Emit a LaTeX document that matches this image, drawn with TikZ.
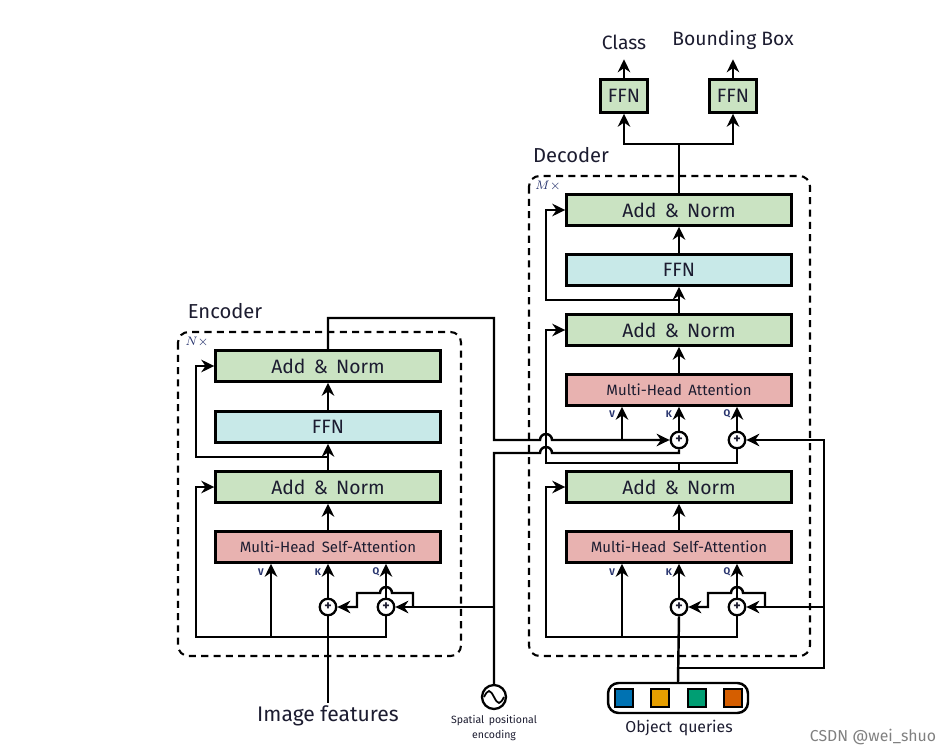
\documentclass[tikz,border=0pt]{standalone}
\usepackage{fontspec}
\setmainfont{Fira Sans}
\usetikzlibrary{arrows.meta}

\definecolor{anGreen}{RGB}{202,227,194}
\definecolor{ffnCyan}{RGB}{200,233,232}
\definecolor{attPink}{RGB}{232,178,176}
\definecolor{textC}{RGB}{28,28,48}
\definecolor{labelBlue}{RGB}{40,52,110}
\definecolor{sqBlue}{RGB}{0,114,178}
\definecolor{sqOrange}{RGB}{230,159,0}
\definecolor{sqGreen}{RGB}{0,158,115}
\definecolor{sqVerm}{RGB}{213,94,0}

\begin{document}
\begin{tikzpicture}
        [   x=0.02cm, y=-0.02cm,
            line width=1.4pt,
            >={Stealth[length=2.6mm,width=2.5mm]},
            layerBox/.style=
            {rectangle, draw, line width=1.4pt, text=textC,
            minimum width=4.5cm, minimum height=0.62cm, inner sep=0pt},
            anBox/.style=
            {layerBox, fill=anGreen, font=\fontsize{11}{13}\selectfont},
            ffnBox/.style=
            {layerBox, fill=ffnCyan, font=\fontsize{11}{13}\selectfont},
            attBox/.style=
            {layerBox, fill=attPink, font=\fontsize{8.5}{10}\selectfont},
            headBox/.style=
            {rectangle, draw, line width=1.4pt, fill=anGreen, text=textC,
            minimum width=0.94cm, minimum height=0.66cm, inner sep=0pt,
            font=\fontsize{11}{13}\selectfont},
            addNode/.style=
            {circle, draw, line width=1.3pt, fill=white, text=textC,
            minimum size=0.33cm, inner sep=0pt,
            font=\bfseries\fontsize{8}{8}\selectfont},
            qkvLabel/.style=
            {text=labelBlue, inner sep=0pt,
            font=\bfseries\fontsize{5.5}{6}\selectfont},
            stackBox/.style=
            {draw, line width=1.2pt, rounded corners=6pt,
            dash pattern=on 4pt off 3pt},
            titleText/.style=
            {text=textC, font=\fontsize{11.5}{13}\selectfont}
        ]
            \useasboundingbox (0,0) rectangle (940,750);

            \draw[stackBox] (178,332) rectangle (461,656);
            \draw[stackBox] (529,176) rectangle (810,656);
            \node[titleText] (encT) at (225,311) {Encoder};
            \node[titleText] (decT) at (571,155) {Decoder};
            \node[text=labelBlue, font=\fontsize{7.5}{8}\selectfont] (encN) at (197,342) {$N\times$};
            \node[text=labelBlue, font=\fontsize{7.5}{8}\selectfont] (decM) at (548,186) {$M\times$};

            \node[anBox] (encAN2) at (328,366) {Add \,\&\, Norm};
            \node[ffnBox] (encFFN) at (328,427) {FFN};
            \node[anBox] (encAN1) at (328,487) {Add \,\&\, Norm};
            \node[attBox] (encMHSA) at (328,547) {Multi-Head \,Self-Attention};
            \node[addNode] (encK) at (328,607) {+};
            \node[addNode] (encQ) at (386,607) {+};

            \node[anBox] (decAN3) at (679,210) {Add \,\&\, Norm};
            \node[ffnBox] (decFFN) at (679,270) {FFN};
            \node[anBox] (decAN2) at (679,330) {Add \,\&\, Norm};
            \node[attBox] (decMHA) at (679,390) {Multi-Head \,Attention};
            \node[addNode] (decK2) at (679,440) {+};
            \node[addNode] (decQ2) at (737,440) {+};
            \node[anBox] (decAN1) at (679,487) {Add \,\&\, Norm};
            \node[attBox] (decMHSA) at (679,547) {Multi-Head \,Self-Attention};
            \node[addNode] (decK1) at (679,607) {+};
            \node[addNode] (decQ1) at (737,607) {+};

            \node[headBox] (ffnCls) at (624,96) {FFN};
            \node[headBox] (ffnBbox) at (733,96) {FFN};
            \node[titleText, font=\fontsize{11}{13}\selectfont] (clsT) at (624,42) {Class};
            \node[titleText, font=\fontsize{11}{13}\selectfont] (bbT) at (733,40) {Bounding Box};

            \foreach \x/\l in {271/V, 328/K, 386/Q}
                \node[qkvLabel] (encL\l) at (\x-10,572) {\l};
            \foreach \x/\l in {622/V, 679/K, 737/Q}
                \node[qkvLabel] (decL\l) at (\x-10,414) {\l};
            \foreach \x/\l in {622/V, 679/K, 737/Q}
                \node[qkvLabel] (decS\l) at (\x-10,572) {\l};

            \node[text=textC, font=\fontsize{12}{14}\selectfont, inner sep=1pt] (imgF) at (328,716) {Image features};
            \node[circle, draw, line width=1.3pt, minimum size=0.48cm, inner sep=0pt] (pe) at (494,697) {};
            \draw[line width=1pt] (484,697) sin (489,691) cos (494,697) sin (499,703) cos (504,697);
            \node[text=textC, align=center, font=\fontsize{6}{8}\selectfont] (peT) at (494,728) {Spatial \,positional\\encoding};

            \node[draw, line width=1.4pt, rounded corners=6pt, minimum width=2.8cm, minimum height=0.6cm] (oq) at (678,698) {};
            \foreach \x/\c in {624/sqBlue, 660/sqOrange, 697/sqGreen, 733/sqVerm}
                \node[draw, line width=0.8pt, fill=\c, minimum size=0.36cm, inner sep=0pt] (sq\c) at (\x,698) {};
            \node[text=textC, font=\fontsize{9}{11}\selectfont] (oqT) at (679,728) {Object \,queries};
            \node[text=gray, font=\fontsize{9}{11}\selectfont] (wm) at (873,737) {CSDN @wei\_shuo};

            \coordinate (encV) at (271,637);
            \coordinate (decV2) at (622,440);
            \coordinate (decV1) at (622,637);

            \draw (imgF.north) -- (encK.south);
            \draw[->] (encQ.south) |- (196,637) |- (encAN1.west);
            \draw[->] (encV) -- (encV |- encMHSA.south);
            \draw[->] (encK.north) -- (encK |- encMHSA.south);
            \draw[->] (encQ.north) -- (encQ |- encMHSA.south);
            \draw[->] (494,607) -- (encQ.east);
            \draw[->] (413,607) -- (413,593) -- (392,593) arc[start angle=0, end angle=180, radius=0.12cm] -- (357,593) -- (357,607) -- (encK.east);
            \draw[->] (encMHSA.north) -- (encAN1.south);
            \draw[->] (encAN1.north) -- (encFFN.south);
            \draw[->] (328,457) -- (196,457) |- (encAN2.west);
            \draw[->] (encFFN.north) -- (encAN2.south);

            \draw (pe.north) -- (494,453) -- (540,453) arc[start angle=180, end angle=0, radius=0.12cm] -- (679,453) -- (decK2.south);
            \draw[->] (encAN2.north) -- (328,318) -- (494,318) -- (494,440) -- (540,440) arc[start angle=180, end angle=0, radius=0.12cm] -- (decK2.west);
            \draw[->] (decV2) -- (decV2 |- decMHA.south);

            \draw (oq.north) -- (decK1.south);
            \draw[->] (679,668) -- (824,668) -- (824,440) -- (decQ2.east);
            \draw[->] (824,607) -- (decQ1.east);
            \draw[->] (decQ1.south) |- (546,637) |- (decAN1.west);
            \draw[->] (decV1) -- (decV1 |- decMHSA.south);
            \draw[->] (decK1.north) -- (decK1 |- decMHSA.south);
            \draw[->] (decQ1.north) -- (decQ1 |- decMHSA.south);
            \draw[->] (765,607) -- (765,593) -- (743,593) arc[start angle=0, end angle=180, radius=0.12cm] -- (708,593) -- (708,607) -- (decK1.east);
            \draw[->] (decMHSA.north) -- (decAN1.south);
            \draw (decAN1.north) -- (679,463);
            \draw[->] (decQ2.south) |- (546,463) |- (decAN2.west);
            \draw[->] (decK2.north) -- (decK2 |- decMHA.south);
            \draw[->] (decQ2.north) -- (decQ2 |- decMHA.south);
            \draw[->] (decMHA.north) -- (decAN2.south);
            \draw[->] (decAN2.north) -- (decFFN.south);
            \draw[->] (679,300) -- (546,300) |- (decAN3.west);
            \draw[->] (decFFN.north) -- (decAN3.south);
            \draw (decAN3.north) -- (679,144);
            \draw[->] (679,144) -| (ffnCls.south);
            \draw[->] (679,144) -| (ffnBbox.south);
            \draw[->] (ffnCls.north) -- ++(0,-19);
            \draw[->] (ffnBbox.north) -- ++(0,-19);
    \end{tikzpicture}
\end{document}
